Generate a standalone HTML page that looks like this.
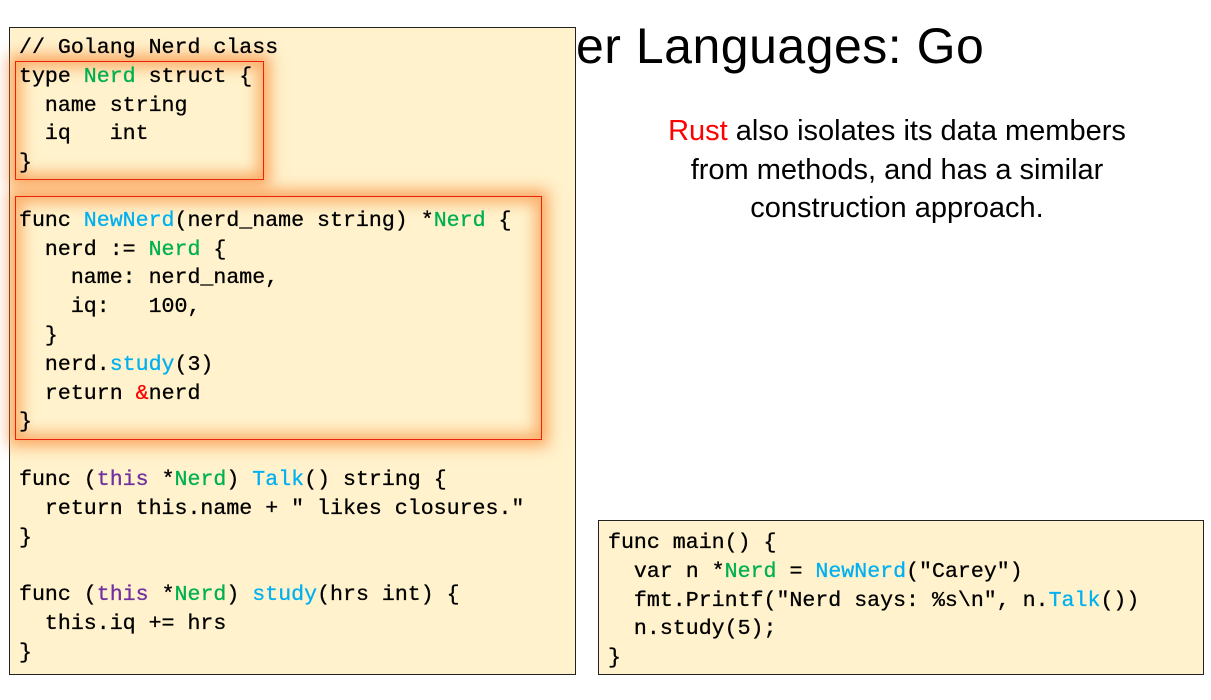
<!DOCTYPE html>
<html><head><meta charset="utf-8"><style>
body{margin:0;width:1211px;height:700px;background:#fff;position:relative;overflow:hidden;font-family:"Liberation Sans",sans-serif}
.title{position:absolute;left:576px;top:17px;font-size:50px;letter-spacing:0.5px;color:#000;white-space:nowrap}
.rust{position:absolute;left:597px;width:600px;top:112px;text-align:center;font-size:29px;line-height:38.5px;color:#000}
.box{position:absolute;background:#fff2cc;border:1px solid #222}
pre{margin:0;font-family:"Liberation Mono",monospace;font-size:21.6px;line-height:28.8px;color:#000;-webkit-text-stroke:0.3px #000}
.g{color:#00b050;-webkit-text-stroke-color:#00b050}.b{color:#00b0f0;-webkit-text-stroke-color:#00b0f0}.p{color:#7030a0;-webkit-text-stroke-color:#7030a0}.r{color:#ff0000;-webkit-text-stroke-color:#ff0000}
.glow{position:absolute;border:1px solid #e8250c;box-shadow:0 0 14px 6px rgba(250,140,60,.75),inset 0 0 14px 6px rgba(250,150,70,.7)}
</style></head><body>
<div class="title">er Languages: Go</div>
<div class="rust"><span class="r">Rust</span> also isolates its data members<br>from methods, and has a similar<br>construction approach.</div>
<div class="box" style="left:9px;top:27px;width:565px;height:646px"></div>
<div class="glow" style="left:15px;top:61px;width:247px;height:117px"></div>
<div class="glow" style="left:15px;top:196px;width:525px;height:242px"></div>
<pre style="position:absolute;left:19px;top:34px">// Golang Nerd class
type <span class="g">Nerd</span> struct {
  name string
  iq   int
}

func <span class="b">NewNerd</span>(nerd_name string) *<span class="g">Nerd</span> {
  nerd := <span class="g">Nerd</span> {
    name: nerd_name,
    iq:   100,
  }
  nerd.<span class="b">study</span>(3)
  return <span class="r">&amp;</span>nerd
}

func (<span class="p">this</span> *<span class="g">Nerd</span>) <span class="b">Talk</span>() string {
  return this.name + " likes closures."
}

func (<span class="p">this</span> *<span class="g">Nerd</span>) <span class="b">study</span>(hrs int) {
  this.iq += hrs
}</pre>
<div class="box" style="left:598px;top:520px;width:604px;height:153px"></div>
<pre style="position:absolute;left:608px;top:529px">func main() {
  var n *<span class="g">Nerd</span> = <span class="b">NewNerd</span>("Carey")
  fmt.Printf("Nerd says: %s\n", n.<span class="b">Talk</span>())
  n.study(5);
}</pre>
</body></html>
